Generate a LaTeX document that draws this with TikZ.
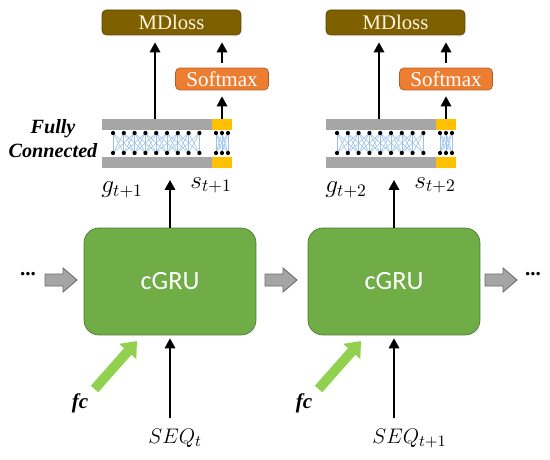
\documentclass[tikz,border=0pt]{standalone}
\usepackage{fontspec}
\setmainfont{Liberation Serif}
\newfontfamily\grufont{Carlito}
\usetikzlibrary{arrows.meta,calc}

\begin{document}
\begin{tikzpicture}[x=0.02cm,y=-0.02cm,
  lossbox/.style={draw=closs!75!black,fill=closs,rounded corners=2.5pt,minimum width=2.78cm,
    minimum height=0.5cm,inner sep=0pt,text=cream,font=\fontsize{11.8}{13}\selectfont},
  softbox/.style={draw=csoft!75!black,fill=csoft,rounded corners=2.5pt,minimum width=1.86cm,
    minimum height=0.44cm,inner sep=0pt,text=white,font=\fontsize{12}{14}\selectfont},
  grubox/.style={draw=cgru!70!black,fill=cgru,rounded corners=0.3cm,minimum width=3.44cm,
    minimum height=2.14cm,inner sep=0pt,text=white,font=\grufont\fontsize{15}{18}\selectfont},
  link/.style={line width=1pt,-{Triangle[length=2mm,width=2.1mm]}},
  feed/.style={line width=5.6pt,cfc,-{Triangle[length=2.8mm,width=4.4mm]}},
  pass/.style={fill=cpass,draw=cpass!65!black,line width=0.5pt},
  wire/.style={cwire,line width=0.35pt},
  lbl/.style={inner sep=0pt,font=\fontsize{14}{16}\selectfont}]
\definecolor{closs}{RGB}{127,96,0}\definecolor{csoft}{RGB}{237,125,49}
\definecolor{cgru}{RGB}{112,173,71}\definecolor{cfc}{RGB}{146,208,80}
\definecolor{cpass}{RGB}{165,165,165}\definecolor{cbar}{RGB}{166,166,166}
\definecolor{cyel}{RGB}{255,192,0}\definecolor{cwire}{RGB}{157,195,230}
\definecolor{cream}{RGB}{255,246,222}
\useasboundingbox (0,0) rectangle (550,459);
% ===== one time step per panel =====
\foreach \i/\dx/\g/\q in {1/0/{t+1}/{t},2/224/{t+2}/{t+1}}{
  \node[lossbox] (mdloss\i) at (171.5+\dx,22.5) {MDloss};
  \node[softbox] (softmax\i) at (222+\dx,79) {Softmax};
  \node[grubox] (cgru\i) at (170+\dx,281.5) {cGRU};
  % fully connected layer: bars, wires, units
  \fill[cbar] (102+\dx,119) rectangle (212+\dx,130);
  \fill[cyel] (212+\dx,119) rectangle (232+\dx,130);
  \fill[cbar] (102+\dx,157) rectangle (212+\dx,168);
  \fill[cyel] (212+\dx,157) rectangle (232+\dx,168);
  \foreach \a in {0,...,8}{\foreach \b in {0,...,8}{
    \pgfmathtruncatemacro\d{abs(\a-\b)}
    \ifnum\d<3 \draw[wire] (113+10.8*\a+\dx,133)--(113+10.8*\b+\dx,153);\fi}}
  \foreach \a in {0,1,2}{\foreach \b in {0,1,2}{
    \draw[wire] (216+6*\a+\dx,133)--(216+6*\b+\dx,153);}}
  \foreach \a in {0,...,8}{
    \fill (113+10.8*\a+\dx,133) circle[radius=1.2pt];
    \fill (113+10.8*\a+\dx,153) circle[radius=1.2pt];}
  \foreach \a in {0,1,2}{
    \fill (216+6*\a+\dx,133) circle[radius=1.2pt];
    \fill (216+6*\a+\dx,153) circle[radius=1.2pt];}
  \coordinate (gout\i) at (155+\dx,119);
  \coordinate (sout\i) at (222+\dx,119);
  \coordinate (fcin\i) at (170+\dx,180);
  \coordinate (fcend\i) at (137+\dx,341);
  % labels
  \node[lbl,anchor=base west] (g\i) at (101+\dx,193) {$g_{\g}$};
  \node[lbl,anchor=base west] (s\i) at (190+\dx,188) {$s_{\g}$};
  \node[lbl,anchor=base west,font=\fontsize{12.5}{15}\selectfont] (seq\i) at (148+\dx,443) {$SEQ_{\q}$};
  \node[inner sep=0pt,font=\fontsize{12}{14}\selectfont\bfseries\itshape] (fc\i) at (80+\dx,403) {fc};
  % connectors
  \draw[link,shorten >=0.14cm] (gout\i) -- (gout\i |- mdloss\i.south);
  \draw[link,shorten >=0.12cm] (sout\i) -- (softmax\i.south);
  \draw[link,shorten <=0.1cm,shorten >=0.14cm] (softmax\i.north) -- (softmax\i.north |- mdloss\i.south);
  \draw[link] (cgru\i.north) -- (fcin\i);
  \draw[link,shorten >=0.06cm] (cgru\i.south |- 0,418) -- (cgru\i.south);
  \draw[feed] ([shift={(6,-4)}]fc\i.north east) -- (fcend\i);
}
\node[font=\fontsize{11.5}{13.6}\selectfont\bfseries\itshape,align=center,inner sep=0pt] (fclabel) at (53,139) {Fully\\Connected};
% ===== recurrent hand-over =====
\foreach \x in {45,265,485}{
  \draw[pass] (\x,274)--(\x+18,274)--(\x+18,268)--(\x+32,280)--(\x+18,292)--(\x+18,286)--(\x,286)--cycle;}
\node[inner sep=0pt,font=\fontsize{12}{14}\selectfont\bfseries] (dotsin) at (28,274) {...};
\node[inner sep=0pt,font=\fontsize{12}{14}\selectfont\bfseries] (dotsout) at (533,274) {...};
\end{tikzpicture}
\end{document}
